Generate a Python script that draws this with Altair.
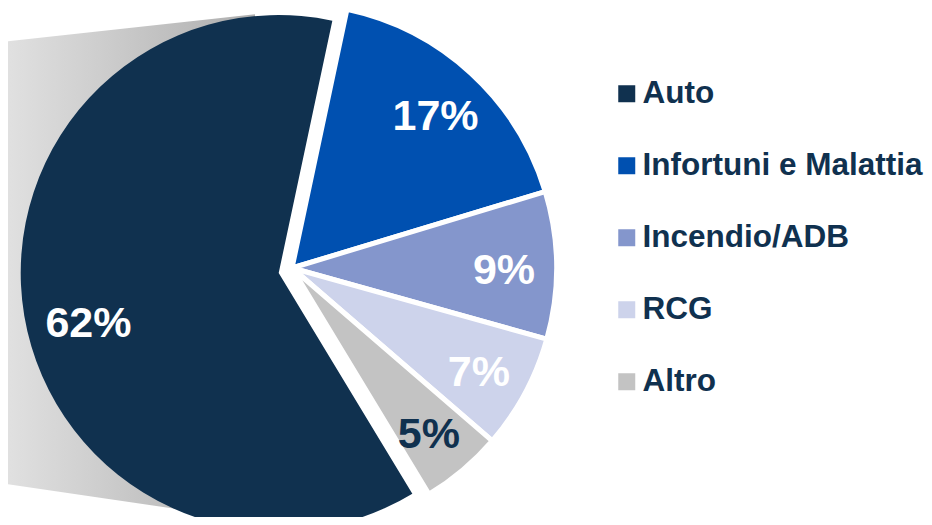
import math
import altair as alt
import pandas as pd

# ---- data ----
categories = ["Infortuni e Malattia", "Incendio/ADB", "RCG", "Altro", "Auto"]
shares = [17, 9, 7, 5, 62]
legend_order = ["Auto", "Infortuni e Malattia", "Incendio/ADB", "RCG", "Altro"]
palette = ["#10314F", "#0050B0", "#8496CC", "#CDD3EB", "#C3C3C3"]

# decorative gradient "shadow" behind the pie (styling only)
shadow_x = [-8, 247]
shadow_top = [34, 6.2]
shadow_bottom = [475, 512.5]

NAVY = "#10314F"
FONT = "Liberation Sans"

df = pd.DataFrame({"cat": categories, "share": shares, "order": list(range(len(categories)))})
shadow_df = pd.DataFrame({"sx": shadow_x, "sy": shadow_top, "sy2": shadow_bottom})

start = math.radians(12)
theta_scale = alt.Scale(domain=[0, 100], range=[start, start + 2 * math.pi])

base = (
    alt.Chart(df)
    .transform_window(cum="sum(share)", sort=[alt.SortField("order")])
    .transform_calculate(
        t0="datum.cum - datum.share",
        tm="datum.cum - datum.share / 2",
        label="datum.share + '%'",
    )
)

color = alt.Color(
    "cat:N",
    scale=alt.Scale(domain=legend_order, range=palette),
    legend=alt.Legend(
        title=None,
        orient="none",
        legendX=603,
        legendY=70,
        symbolType="square",
        symbolSize=289,
        symbolStrokeWidth=0,
        symbolOpacity=1,
        labelFontSize=31.5,
        labelFont=FONT,
        labelFontWeight="bold",
        labelColor=NAVY,
        labelLimit=500,
        rowPadding=39,
        labelOffset=0,
        padding=0,
    ),
)

shadow = alt.Chart(shadow_df).mark_area(
    color=alt.Gradient(
        gradient="linear",
        stops=[
            alt.GradientStop(color="#e2e2e2", offset=0),
            alt.GradientStop(color="#aeaeae", offset=1),
        ],
        x1=0, x2=1, y1=0, y2=0,
    )
).encode(
    x=alt.X("sx:Q", scale=None, axis=None),
    y=alt.Y("sy:Q", scale=None, axis=None),
    y2="sy2:Q",
)

is_auto = alt.datum.cat == "Auto"
not_auto = alt.datum.cat != "Auto"

AUTO_X, AUTO_Y = 270.7, 265
REST_X, REST_Y = 284, 260

auto_arc = base.transform_filter(is_auto).mark_arc(
    outerRadius=258, strokeWidth=0, x=AUTO_X, y=AUTO_Y
).encode(theta=alt.Theta("t0:Q", scale=theta_scale), theta2="cum:Q", color=color)

other_arc = base.transform_filter(not_auto).mark_arc(
    outerRadius=264.5, stroke="white", strokeWidth=5, x=REST_X, y=REST_Y
).encode(theta=alt.Theta("t0:Q", scale=theta_scale), theta2="cum:Q", color=color)

label_color = alt.condition(alt.datum.cat == "Altro", alt.value(NAVY), alt.value("white"))

auto_text = base.transform_filter(is_auto).mark_text(
    radius=197, x=AUTO_X, y=AUTO_Y, dx=4, dy=18, font=FONT, fontWeight="bold", fontSize=43,
    align="center", baseline="middle"
).encode(theta=alt.Theta("tm:Q", scale=theta_scale), text="label:N", color=label_color)

other_text = base.transform_filter(not_auto).mark_text(
    radius=212, x=REST_X, y=REST_Y, dy=5, font=FONT, fontWeight="bold", fontSize=43,
    align="center", baseline="middle"
).encode(theta=alt.Theta("tm:Q", scale=theta_scale), text="label:N", color=label_color)

chart = (
    alt.layer(shadow, auto_arc, other_arc, auto_text, other_text)
    .properties(width=916, height=509, padding=0, autosize=alt.AutoSizeParams(type="none"))
    .configure_view(stroke=None)
)

chart.save("out.html", embed_options={"renderer": "svg", "actions": False})
